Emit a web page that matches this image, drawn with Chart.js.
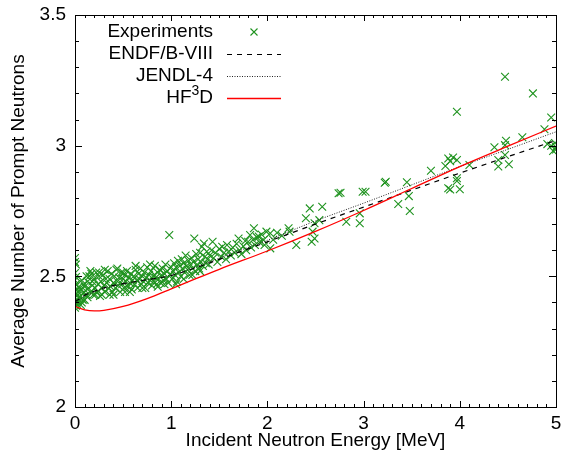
<!DOCTYPE html>
<html>
<head>
<meta charset="utf-8">
<script src="https://cdn.jsdelivr.net/npm/chart.js@4.4.1/dist/chart.umd.min.js"></script>
<style>
  html, body { margin: 0; padding: 0; background: #fff; }
  canvas { display: block; }
</style>
</head>
<body>
<canvas id="nubarChart" width="565" height="457"></canvas>
<script>
// measured prompt nu-bar (energy in MeV, average neutrons)
var expEnergy = [
  0.00, 0.00, 0.01, 0.00, 0.01, 0.00, 0.01, 0.00, 0.02, 0.00, 0.01, 0.02, 0.00, 0.01, 0.00, 0.02, 0.01, 0.00, 0.03, 0.03,
  0.05, 0.06, 0.07, 0.08, 0.09, 0.10, 0.11, 0.12, 0.13, 0.14, 0.15, 0.06, 0.10, 0.13, 0.08,
  0.16, 0.17, 0.18, 0.19, 0.20, 0.21, 0.22, 0.23, 0.24, 0.25, 0.26, 0.27, 0.28, 0.29, 0.30, 0.31, 0.32, 0.33, 0.34, 0.35, 0.18, 0.28,
  0.36, 0.37, 0.38, 0.39, 0.40, 0.41, 0.42, 0.43, 0.44, 0.45, 0.46, 0.47, 0.48, 0.49, 0.50, 0.51, 0.52, 0.53, 0.54, 0.55, 0.56, 0.57, 0.58, 0.59, 0.60, 0.40, 0.52,
  0.61, 0.62, 0.63, 0.64, 0.65, 0.66, 0.67, 0.68, 0.69, 0.70, 0.71, 0.72, 0.73, 0.74, 0.75, 0.76, 0.77, 0.78, 0.79, 0.80,
  0.81, 0.82, 0.83, 0.84, 0.85, 0.86, 0.87, 0.88, 0.89, 0.90, 0.91, 0.92, 0.93, 0.94, 0.95, 0.96, 0.97, 0.98, 0.99, 1.00,
  1.01, 1.02, 1.03, 1.04, 1.05, 1.06, 1.07, 1.08, 1.09, 1.10, 1.11, 1.12, 1.13, 1.14, 1.15, 1.16, 1.17, 1.18, 1.19, 1.20,
  1.21, 1.22, 1.23, 1.24, 1.25, 1.26, 1.27, 1.28, 1.29, 1.30, 1.31, 1.32, 1.33, 1.34, 1.35, 1.36, 1.37, 1.38, 1.39,
  1.40, 1.42, 1.43, 1.44, 1.46, 1.48, 1.50, 1.52, 1.53, 1.55, 1.57, 1.58, 1.60, 1.62, 1.64, 1.66, 1.68, 1.70,
  1.71, 1.73, 1.75, 1.77, 1.78, 1.80, 1.82, 1.83, 1.85, 1.86, 1.87, 1.89, 1.91, 1.92, 1.94, 1.96, 1.97, 1.99,
  2.03, 2.03, 2.06, 2.10, 2.15, 2.22, 2.23, 2.30, 2.40, 2.44, 2.46, 2.47, 2.49, 2.49, 2.54, 2.57, 2.74, 2.76, 2.82, 2.96,
  2.96, 2.99, 3.02, 3.22, 3.23, 3.36, 3.45, 3.47, 3.48, 3.70, 3.85, 3.88, 3.90, 3.93, 3.97, 3.97, 3.97, 3.97, 3.88, 3.90,
  4.00, 4.10, 4.36, 4.40, 4.40, 4.47, 4.47, 4.47, 4.48, 4.51, 4.65, 4.76, 4.88, 4.91, 4.95, 4.95, 4.97, 4.99, 5.00, 5.00,
  0.04, 0.07, 0.12, 0.16, 0.21, 0.25, 0.31, 0.36, 0.44, 0.50, 0.57, 0.63, 0.70, 0.78, 0.86, 0.93, 1.05, 1.13, 1.22, 1.30
];
var expNu = [
  2.570, 2.555, 2.545, 2.513, 2.497, 2.485, 2.470, 2.460, 2.450, 2.440, 2.432, 2.425, 2.418, 2.410, 2.400, 2.395, 2.388, 2.380, 2.405, 2.440,
  2.420, 2.450, 2.400, 2.435, 2.470, 2.410, 2.445, 2.430, 2.480, 2.455, 2.500, 2.390, 2.460, 2.420, 2.410,
  2.440, 2.510, 2.465, 2.430, 2.490, 2.455, 2.515, 2.440, 2.470, 2.500, 2.425, 2.480, 2.455, 2.505, 2.465, 2.440, 2.490, 2.475, 2.520, 2.455, 2.480, 2.430,
  2.490, 2.460, 2.510, 2.440, 2.475, 2.500, 2.455, 2.525, 2.480, 2.465, 2.495, 2.440, 2.515, 2.470, 2.490, 2.455, 2.505, 2.480, 2.520, 2.460, 2.495, 2.475, 2.510, 2.450, 2.485, 2.430, 2.440,
  2.500, 2.470, 2.525, 2.485, 2.455, 2.510, 2.490, 2.530, 2.470, 2.500, 2.480, 2.515, 2.455, 2.495, 2.535, 2.475, 2.505, 2.485, 2.520, 2.465,
  2.500, 2.480, 2.540, 2.495, 2.470, 2.515, 2.490, 2.525, 2.475, 2.505, 2.530, 2.485, 2.510, 2.545, 2.490, 2.520, 2.475, 2.658, 2.505, 2.535,
  2.490, 2.520, 2.550, 2.505, 2.535, 2.480, 2.560, 2.515, 2.540, 2.500, 2.565, 2.530, 2.550, 2.515, 2.580, 2.540, 2.525, 2.560, 2.505, 2.545,
  2.570, 2.530, 2.555, 2.645, 2.520, 2.585, 2.545, 2.565, 2.530, 2.590, 2.555, 2.613, 2.540, 2.626, 2.575, 2.550, 2.595, 2.565, 2.545,
  2.580, 2.600, 2.632, 2.570, 2.590, 2.555, 2.605, 2.575, 2.613, 2.590, 2.565, 2.620, 2.595, 2.580, 2.610, 2.590, 2.625, 2.645,
  2.600, 2.585, 2.615, 2.635, 2.600, 2.632, 2.658, 2.610, 2.640, 2.684, 2.620, 2.650, 2.652, 2.630, 2.660, 2.639, 2.620, 2.671,
  2.665, 2.607, 2.640, 2.667, 2.655, 2.684, 2.671, 2.620, 2.722, 2.760, 2.632, 2.671, 2.703, 2.645, 2.715, 2.766, 2.818, 2.820, 2.709, 2.741,
  2.703, 2.824, 2.824, 2.858, 2.862, 2.777, 2.860, 2.807, 2.750, 2.904, 2.922, 2.951, 2.940, 2.955, 2.945, 2.875, 2.865, 3.130, 2.837, 2.832,
  2.833, 2.926, 2.994, 2.945, 2.920, 3.002, 2.964, 3.264, 3.019, 2.929, 3.032, 3.200, 3.063, 3.006, 3.000, 3.108, 2.980, 3.010, 2.995, 2.985,
  2.460, 2.485, 2.500, 2.520, 2.430, 2.515, 2.525, 2.430, 2.530, 2.515, 2.440, 2.540, 2.455, 2.545, 2.460, 2.470, 2.470, 2.490, 2.505, 2.520
];

// evaluated curves on a common energy grid
var curveEnergy = [0, 0.05, 0.1, 0.2, 0.3, 0.5, 0.75, 1, 1.25, 1.5, 2, 2.5, 3, 3.5, 4, 4.5, 5];
var endfNu   = [2.403, 2.415, 2.428, 2.443, 2.456, 2.472, 2.487, 2.503, 2.532, 2.565, 2.632, 2.700, 2.765, 2.830, 2.895, 2.958, 3.020];
var jendlNu  = [2.400, 2.412, 2.425, 2.440, 2.453, 2.470, 2.487, 2.505, 2.535, 2.570, 2.638, 2.712, 2.780, 2.850, 2.920, 2.986, 3.053];
var hf3dNu   = [2.385, 2.378, 2.372, 2.368, 2.370, 2.385, 2.415, 2.452, 2.490, 2.527, 2.597, 2.672, 2.752, 2.836, 2.920, 2.998, 3.075];

var xTicks = [0, 1, 2, 3, 4, 5];
var yTicks = [2, 2.5, 3, 3.5];

var labelFont = { family: 'Liberation Sans, Arial, sans-serif', size: 19 };

function pairs(xs, ys) {
    return xs.map(function (x, i) { return { x: x, y: ys[i] }; });
}

// gnuplot style frame: box all round, ticks pointing inward, minor ticks every 0.1
var frameTicks = {
    id: 'frameTicks',
    afterDatasetsDraw: function (chart) {
        var ctx = chart.ctx;
        var a = chart.chartArea;
        var xs = chart.scales.x, ys = chart.scales.y;
        ctx.save();
        ctx.strokeStyle = '#000';
        ctx.lineWidth = 1;
        ctx.beginPath();
        var i, p, len;
        for (i = 0; i <= 50; i++) {
            p = Math.round(xs.getPixelForValue(i / 10)) + 0.5;
            len = (i % 10 === 0) ? 6 : 3;
            ctx.moveTo(p, a.bottom); ctx.lineTo(p, a.bottom - len);
            ctx.moveTo(p, a.top); ctx.lineTo(p, a.top + len);
        }
        for (i = 20; i <= 35; i++) {
            p = Math.round(ys.getPixelForValue(i / 10)) + 0.5;
            len = (i % 5 === 0) ? 7 : 4;
            ctx.moveTo(a.left, p); ctx.lineTo(a.left + len, p);
            ctx.moveTo(a.right, p); ctx.lineTo(a.right - len, p);
        }
        ctx.stroke();
        ctx.strokeRect(Math.round(a.left) + 0.5, Math.round(a.top) + 0.5,
            Math.round(a.right - a.left), Math.round(a.bottom - a.top));
        ctx.restore();
    }
};

// key in the upper left: right aligned text followed by a line/point sample
var keyBox = {
    id: 'keyBox',
    afterDraw: function (chart) {
        var ctx = chart.ctx;
        var textRight = 213, sampleL = 227, sampleR = 281;
        var rows = [32, 54, 76, 98];
        ctx.save();
        ctx.font = labelFont.size + 'px ' + labelFont.family;
        ctx.textBaseline = 'middle';
        ctx.textAlign = 'right';
        ctx.fillStyle = '#000';
        chart.data.datasets.forEach(function (ds, i) {
            var y = rows[i];
            if (ds.label === 'HF3D') {
                ctx.fillText('D', textRight, y);
                var wD = ctx.measureText('D').width;
                ctx.font = '14px ' + labelFont.family;
                ctx.fillText('3', textRight - wD, y - 7);
                var w3 = ctx.measureText('3').width;
                ctx.font = labelFont.size + 'px ' + labelFont.family;
                ctx.fillText('HF', textRight - wD - w3, y);
            } else {
                ctx.fillText(ds.label, textRight, y);
            }
            ctx.strokeStyle = ds.borderColor;
            ctx.lineWidth = ds.borderWidth;
            ctx.beginPath();
            if (ds.showLine) {
                ctx.setLineDash(ds.borderDash || []);
                ctx.moveTo(sampleL, y + 0.5);
                ctx.lineTo(sampleR, y + 0.5);
            } else {
                var cx = (sampleL + sampleR) / 2, r = 3.5;
                ctx.moveTo(cx - r, y - r); ctx.lineTo(cx + r, y + r);
                ctx.moveTo(cx - r, y + r); ctx.lineTo(cx + r, y - r);
            }
            ctx.stroke();
            ctx.setLineDash([]);
        });
        ctx.restore();
    }
};

var ctx = document.getElementById('nubarChart').getContext('2d');

var nubarChart = new Chart(ctx, {
    type: 'scatter',
    data: {
        datasets: [
            {
                label: 'Experiments',
                data: pairs(expEnergy, expNu),
                pointStyle: 'crossRot',
                pointRadius: 5.5,
                pointHoverRadius: 5.5,
                borderColor: '#1f931f',
                borderWidth: 1.1,
                showLine: false,
                order: 4
            },
            {
                label: 'ENDF/B-VIII',
                data: pairs(curveEnergy, endfNu),
                showLine: true,
                borderColor: '#000000',
                borderWidth: 1.2,
                borderDash: [5, 5],
                pointRadius: 0,
                cubicInterpolationMode: 'monotone',
                order: 3
            },
            {
                label: 'JENDL-4',
                data: pairs(curveEnergy, jendlNu),
                showLine: true,
                borderColor: '#222222',
                borderWidth: 1,
                borderDash: [1, 1.5],
                pointRadius: 0,
                cubicInterpolationMode: 'monotone',
                order: 2
            },
            {
                label: 'HF3D',
                data: pairs(curveEnergy, hf3dNu),
                showLine: true,
                borderColor: '#ff0000',
                borderWidth: 1.3,
                pointRadius: 0,
                cubicInterpolationMode: 'monotone',
                order: 1
            }
        ]
    },
    options: {
        responsive: false,
        animation: false,
        devicePixelRatio: 1,
        layout: {
            padding: { left: 0, right: 9, top: 15, bottom: 0 }
        },
        plugins: {
            legend: { display: false },
            tooltip: { enabled: false }
        },
        scales: {
            x: {
                type: 'linear',
                min: 0,
                max: 5,
                afterFit: function (scale) {
                    scale.height = 50;
                    scale.paddingLeft = 0;
                    scale.paddingRight = 0;
                },
                afterBuildTicks: function (scale) {
                    scale.ticks = xTicks.map(function (v) { return { value: v }; });
                },
                ticks: {
                    padding: 5,
                    font: labelFont,
                    color: '#000',
                    maxRotation: 0,
                    callback: function (v) { return String(v); }
                },
                grid: { display: false, drawTicks: false },
                border: { display: false },
                title: {
                    display: true,
                    text: 'Incident Neutron Energy [MeV]',
                    font: labelFont,
                    color: '#000',
                    padding: { top: 0, bottom: 5 }
                }
            },
            y: {
                type: 'linear',
                min: 2,
                max: 3.5,
                afterFit: function (scale) {
                    scale.width = 75;
                    scale.paddingTop = 0;
                    scale.paddingBottom = 0;
                },
                afterBuildTicks: function (scale) {
                    scale.ticks = yTicks.map(function (v) { return { value: v }; });
                },
                ticks: {
                    padding: 9,
                    font: labelFont,
                    color: '#000',
                    callback: function (v) { return String(v); }
                },
                grid: { display: false, drawTicks: false },
                border: { display: false },
                title: {
                    display: true,
                    text: 'Average Number of Prompt Neutrons',
                    font: labelFont,
                    color: '#000',
                    padding: { top: 7, bottom: 0 }
                }
            }
        }
    },
    plugins: [frameTicks, keyBox]
});
</script>
</body>
</html>
